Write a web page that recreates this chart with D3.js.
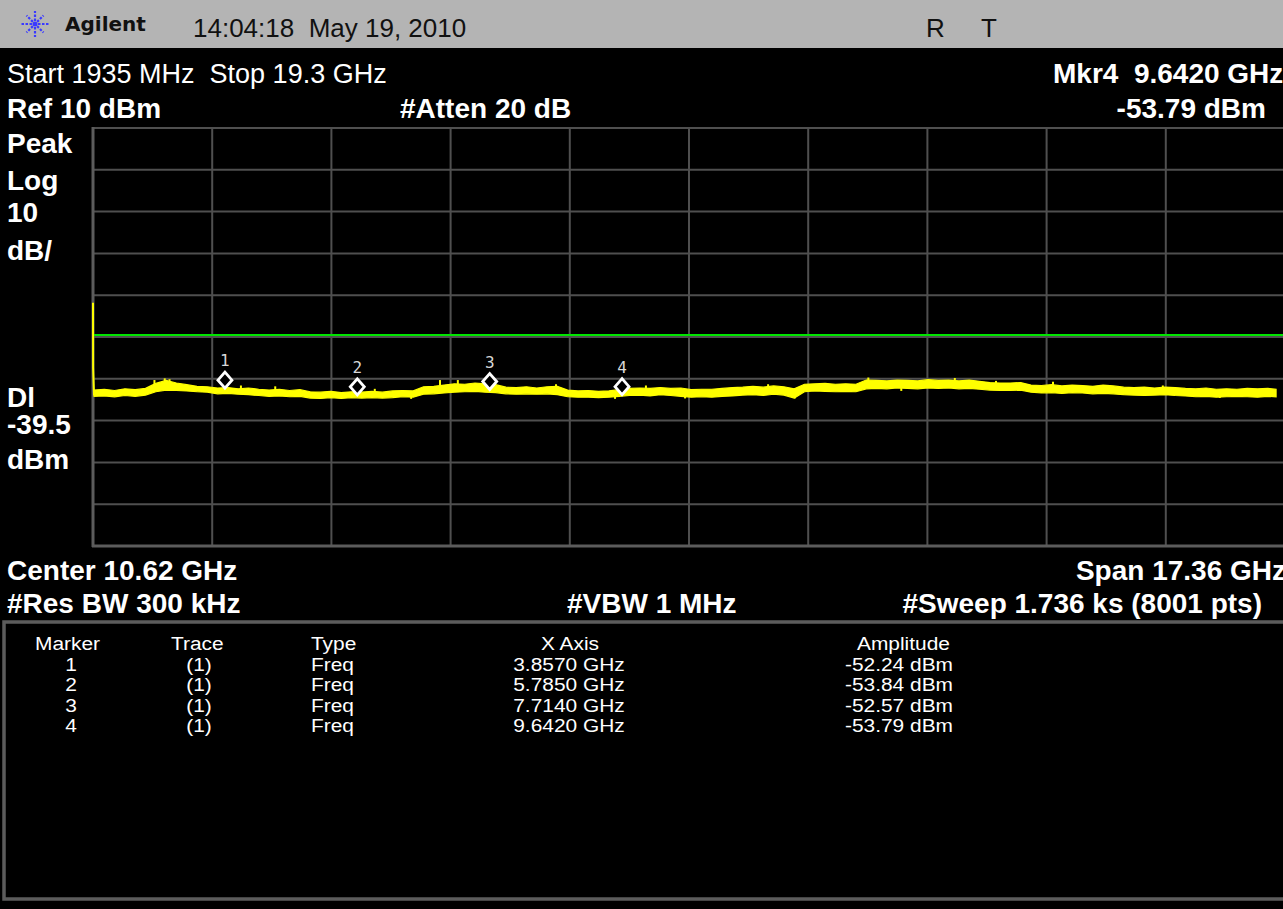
<!DOCTYPE html>
<html>
<head>
<meta charset="utf-8">
<script src="https://cdn.jsdelivr.net/npm/d3@7"></script>
<style>
  html, body { margin: 0; padding: 0; background: #000; }
  svg { display: block; }
  text { white-space: pre; font-family: "Liberation Sans", Arial, sans-serif; }
</style>
</head>
<body>
<svg id="chart" width="1283" height="909"></svg>
<script>
// Sweep settings
const startGHz = 1.935;
const stopGHz = 19.3;
const refLevel = 10;        // dBm, top of graticule
const dbPerDiv = 10;
const divisions = 10;
const displayLine = -39.5;  // dBm

// Trace: leading edge at the start of the sweep
const edgeFreq = [1.935, 1.937, 1.95];
const edgeDbm = [-31.8, -47.4, -54.0];

// Trace envelope (peak detector, 8001 pts shown as max / min band)
const traceFreq = [
  1.95, 2.10, 2.25, 2.40, 2.55, 2.70, 2.85, 3.00, 3.15, 3.30,
  3.45, 3.60, 3.75, 3.90, 4.05, 4.20, 4.35, 4.50, 4.65, 4.80,
  4.95, 5.10, 5.25, 5.40, 5.55, 5.70, 5.85, 6.00, 6.15, 6.30,
  6.45, 6.60, 6.75, 6.90, 7.05, 7.20, 7.35, 7.50, 7.65, 7.80,
  7.95, 8.10, 8.25, 8.40, 8.55, 8.70, 8.85, 9.00, 9.15, 9.30,
  9.45, 9.60, 9.75, 9.90, 10.05, 10.20, 10.35, 10.50, 10.65, 10.80,
  10.95, 11.10, 11.25, 11.40, 11.55, 11.70, 11.85, 12.00, 12.15, 12.30,
  12.45, 12.60, 12.75, 12.90, 13.05, 13.20, 13.35, 13.50, 13.65, 13.80,
  13.95, 14.10, 14.25, 14.40, 14.55, 14.70, 14.85, 15.00, 15.15, 15.30,
  15.45, 15.60, 15.75, 15.90, 16.05, 16.20, 16.35, 16.50, 16.65, 16.80,
  16.95, 17.10, 17.25, 17.40, 17.55, 17.70, 17.85, 18.00, 18.15, 18.30,
  18.45, 18.60, 18.75, 18.90, 19.05, 19.17
];
const traceMax = [
  -52.7, -52.5, -52.8, -52.4, -52.6, -52.3, -51.1, -50.4, -51.0, -51.4,
  -51.8, -51.9, -52.2, -52.1, -52.4, -52.2, -52.5, -52.7, -52.5, -52.8,
  -52.6, -53.1, -53.2, -53.0, -53.3, -53.1, -53.2, -53.0, -53.2, -52.9,
  -52.8, -52.9, -51.9, -51.8, -51.5, -51.2, -51.3, -51.0, -51.2, -51.4,
  -52.0, -52.1, -51.9, -52.2, -51.9, -51.8, -52.7, -52.9, -52.8, -53.0,
  -52.9, -52.6, -52.3, -52.2, -52.3, -52.1, -52.3, -52.2, -52.6, -52.5,
  -52.5, -52.3, -52.1, -52.0, -51.8, -52.0, -51.7, -51.9, -52.4, -51.3,
  -51.2, -51.1, -51.3, -51.2, -51.3, -50.3, -50.4, -50.5, -50.3, -50.4,
  -50.5, -50.2, -50.4, -50.3, -50.5, -50.3, -50.6, -50.9, -51.0, -51.0,
  -50.9, -51.5, -51.6, -51.4, -51.7, -51.5, -51.6, -51.8, -51.5, -51.7,
  -52.0, -52.1, -52.0, -52.2, -52.0, -52.1, -52.3, -52.4, -52.2, -52.5,
  -52.4, -52.5, -52.3, -52.4, -52.3, -52.5
];
const traceMin = [
  -54.2, -54.1, -54.3, -54.0, -54.2, -53.9, -53.1, -52.7, -52.8, -52.9,
  -53.1, -53.2, -53.6, -53.5, -53.7, -53.8, -54.0, -54.2, -54.1, -54.3,
  -54.2, -54.6, -54.7, -54.5, -54.7, -54.5, -54.6, -54.5, -54.6, -54.5,
  -54.3, -54.4, -53.7, -53.6, -53.4, -53.2, -53.1, -53.0, -53.2, -53.3,
  -53.6, -53.7, -53.6, -53.7, -53.6, -53.8, -54.3, -54.4, -54.4, -54.5,
  -54.4, -54.2, -54.0, -53.9, -54.1, -53.8, -54.0, -54.2, -54.4, -54.3,
  -54.4, -54.2, -54.1, -53.9, -53.8, -54.0, -53.7, -53.9, -54.6, -53.1,
  -52.9, -53.0, -53.1, -53.0, -53.1, -52.4, -52.3, -52.4, -52.2, -52.3,
  -52.4, -52.2, -52.3, -52.2, -52.4, -52.3, -52.5, -52.7, -52.8, -52.8,
  -52.7, -53.2, -53.4, -53.3, -53.5, -53.3, -53.4, -53.6, -53.5, -53.6,
  -53.8, -53.9, -54.0, -53.9, -53.8, -54.0, -54.1, -54.3, -54.2, -54.4,
  -54.3, -54.2, -54.3, -54.4, -54.2, -54.3
];

// Isolated noise peaks / dips that stand out of the band
const spikeFreq = [2.83, 2.98, 3.05, 4.09, 4.59, 6.04, 6.57, 6.99, 7.25, 8.68, 9.54, 9.99, 10.56,
                   11.77, 12.16, 13.23, 13.71, 14.49, 15.09, 15.92, 17.52, 18.35];
const spikeDbm = [-50.3, -49.9, -50.1, -51.6, -51.8, -52.4, -54.8, -50.3, -50.3, -51.3, -54.8, -51.6, -54.7,
                  -51.3, -54.7, -49.7, -52.9, -49.8, -50.5, -50.7, -51.6, -54.6];

// Markers
const markerIds = ["1", "2", "3", "4"];
const markerTraces = ["(1)", "(1)", "(1)", "(1)"];
const markerTypes = ["Freq", "Freq", "Freq", "Freq"];
const markerFreqGHz = [3.857, 5.785, 7.714, 9.642];
const markerDbm = [-52.24, -53.84, -52.57, -53.79];
const tableHeaders = ["Marker", "Trace", "Type", "X Axis", "Amplitude"];

const svg = d3.select("#chart");
const W = 1283, H = 909;

svg.append("rect").attr("width", W).attr("height", H).attr("fill", "#000");

// ---- title bar ----
svg.append("rect").attr("x", 0).attr("y", 0).attr("width", W).attr("height", 48).attr("fill", "#b4b4b4");

// Agilent spark logo
const logo = svg.append("g").attr("transform", "translate(35,24)");
d3.range(0, 360, 45).forEach(a => {
  const r = a * Math.PI / 180;
  logo.append("line")
    .attr("x1", Math.cos(r) * 3).attr("y1", Math.sin(r) * 3)
    .attr("x2", Math.cos(r) * (a % 90 === 0 ? 15 : 12)).attr("y2", Math.sin(r) * (a % 90 === 0 ? 13 : 12))
    .attr("stroke", "#3a3aff").attr("stroke-width", 2.2).attr("stroke-dasharray", "2.5,1.5");
});
logo.append("circle").attr("r", 2.5).attr("fill", "#3a3aff");

svg.append("text").attr("x", 65).attr("y", 31).text("Agilent")
  .style("font-family", "'DejaVu Sans', sans-serif").attr("font-weight", "bold").attr("font-size", 20).attr("fill", "#111");
svg.append("text").attr("x", 193).attr("y", 37).text("14:04:18  May 19, 2010")
  .attr("font-size", 26).attr("fill", "#111");
svg.append("text").attr("x", 926).attr("y", 37).text("R").attr("font-size", 26).attr("fill", "#111");
svg.append("text").attr("x", 981).attr("y", 37).text("T").attr("font-size", 26).attr("fill", "#111");

// ---- annotation text ----
function label(x, y, s, opts = {}) {
  return svg.append("text").attr("x", x).attr("y", y).text(s)
    .attr("font-size", opts.size || 28)
    .attr("font-weight", opts.bold ? "bold" : "normal")
    .attr("text-anchor", opts.anchor || "start")
    .attr("fill", opts.fill || "#fff");
}
label(7, 83, "Start 1935 MHz  Stop 19.3 GHz", { size: 27 });
label(1053, 83, "Mkr4  9.6420 GHz", { bold: true });
label(7, 118, "Ref 10 dBm", { bold: true });
label(400, 118, "#Atten 20 dB", { bold: true });
label(1266, 118, "-53.79 dBm", { bold: true, anchor: "end" });

label(7, 153, "Peak", { bold: true });
label(7, 190, "Log", { bold: true });
label(7, 222, "10", { bold: true });
label(7, 260, "dB/", { bold: true });
label(7, 407, "Dl", { bold: true });
label(7, 434, "-39.5", { bold: true });
label(7, 469, "dBm", { bold: true });

label(7, 580, "Center 10.62 GHz", { bold: true });
label(1286, 580, "Span 17.36 GHz", { bold: true, anchor: "end" });
label(7, 613, "#Res BW 300 kHz", { bold: true });
label(567, 613, "#VBW 1 MHz", { bold: true });
label(1262, 613, "#Sweep 1.736 ks (8001 pts)", { bold: true, anchor: "end" });

// ---- graticule ----
const x = d3.scaleLinear().domain([startGHz, stopGHz]).range([93, 1285]);
const y = d3.scaleLinear().domain([refLevel - dbPerDiv * divisions, refLevel]).range([546, 128]);

const grid = svg.append("g");
const fStep = (stopGHz - startGHz) / divisions;
for (let i = 1; i < divisions; i++) {
  grid.append("line")
    .attr("x1", x(startGHz + i * fStep)).attr("x2", x(startGHz + i * fStep))
    .attr("y1", y.range()[1]).attr("y2", y.range()[0])
    .attr("stroke", "#4f4f4f").attr("stroke-width", 2);
}
for (let i = 0; i < divisions; i++) {
  const lv = refLevel - i * dbPerDiv;
  grid.append("line")
    .attr("x1", x.range()[0]).attr("x2", x.range()[1])
    .attr("y1", y(lv)).attr("y2", y(lv))
    .attr("stroke", "#4f4f4f").attr("stroke-width", 2);
}
grid.append("line").attr("x1", x.range()[0]).attr("x2", x.range()[0])
  .attr("y1", y.range()[1] - 1).attr("y2", y.range()[0] + 1)
  .attr("stroke", "#5c5c5c").attr("stroke-width", 3);
grid.append("line").attr("x1", x.range()[0] - 1).attr("x2", x.range()[1])
  .attr("y1", y.range()[0]).attr("y2", y.range()[0])
  .attr("stroke", "#5c5c5c").attr("stroke-width", 3);

// display line
svg.append("line")
  .attr("x1", x(startGHz)).attr("x2", W)
  .attr("y1", y(displayLine)).attr("y2", y(displayLine))
  .attr("stroke", "#00e600").attr("stroke-width", 2);

// ---- trace ----
const band = traceFreq.map((f, i) => ({ f, hi: traceMax[i], lo: traceMin[i] }));
svg.append("path")
  .datum(band)
  .attr("d", d3.area().x(d => x(d.f)).y0(d => y(d.lo)).y1(d => y(d.hi)).curve(d3.curveLinear))
  .attr("fill", "#ffff00").attr("stroke", "#ffff00").attr("stroke-width", 1.2)
  .attr("stroke-linejoin", "miter");

// spikes drawn from the band centre out to their level
const bis = d3.bisector(d => d.f).left;
svg.append("g").selectAll("line").data(spikeFreq).join("line")
  .attr("x1", f => x(f)).attr("x2", f => x(f))
  .attr("y1", f => {
    const b = band[Math.min(band.length - 1, bis(band, f))];
    return y((b.hi + b.lo) / 2);
  })
  .attr("y2", (f, i) => y(spikeDbm[i]))
  .attr("stroke", "#ffff00").attr("stroke-width", 2);

svg.append("path")
  .datum(edgeFreq.map((f, i) => [f, edgeDbm[i]]))
  .attr("d", d3.line().x(d => x(d[0])).y(d => y(d[1])))
  .attr("fill", "none").attr("stroke", "#ffff00").attr("stroke-width", 2);

// ---- markers ----
const mk = svg.append("g").selectAll("g").data(markerFreqGHz).join("g")
  .attr("transform", (f, i) => `translate(${x(f)},${y(markerDbm[i])})`);
mk.append("path").attr("d", "M0,0 L-7,-8 L0,-16 L7,-8 Z")
  .attr("fill", "#000").attr("stroke", "#fff").attr("stroke-width", 2.8);
mk.append("text").attr("y", -22).attr("text-anchor", "middle")
  .style("font-family", "'DejaVu Sans Mono', monospace")
  .attr("font-size", 16).attr("fill", "#d8d8d8")
  .text((f, i) => markerIds[i]);

// ---- marker table ----
svg.append("rect").attr("x", 4).attr("y", 622).attr("width", W + 10).attr("height", 277)
  .attr("fill", "none").attr("stroke", "#5c5c5c").attr("stroke-width", 3.5);

const headX = [35, 171, 311, 541, 857];
const cellX = [71, 199, 311, 569, 899];
const cellAnchor = ["middle", "middle", "start", "middle", "middle"];
const headY = 650, rowY0 = 671, rowStep = 20.3;
function cell(x0, y0, s, anchor) {
  svg.append("text")
    .attr("transform", `translate(${x0},${y0}) scale(1.1,1)`)
    .attr("text-anchor", anchor).text(s)
    .attr("font-size", 19).attr("fill", "#fff");
}
tableHeaders.forEach((h, c) => cell(headX[c], headY, h, "start"));
const fmtGHz = d3.format(".4f");
const fmtDbm = d3.format(".2f");
markerIds.forEach((id, r) => {
  const cells = [id, markerTraces[r], markerTypes[r],
    fmtGHz(markerFreqGHz[r]) + " GHz", fmtDbm(markerDbm[r]).replace("−", "-") + " dBm"];
  cells.forEach((s, c) => cell(cellX[c], rowY0 + r * rowStep, s, cellAnchor[c]));
});
</script>
</body>
</html>
